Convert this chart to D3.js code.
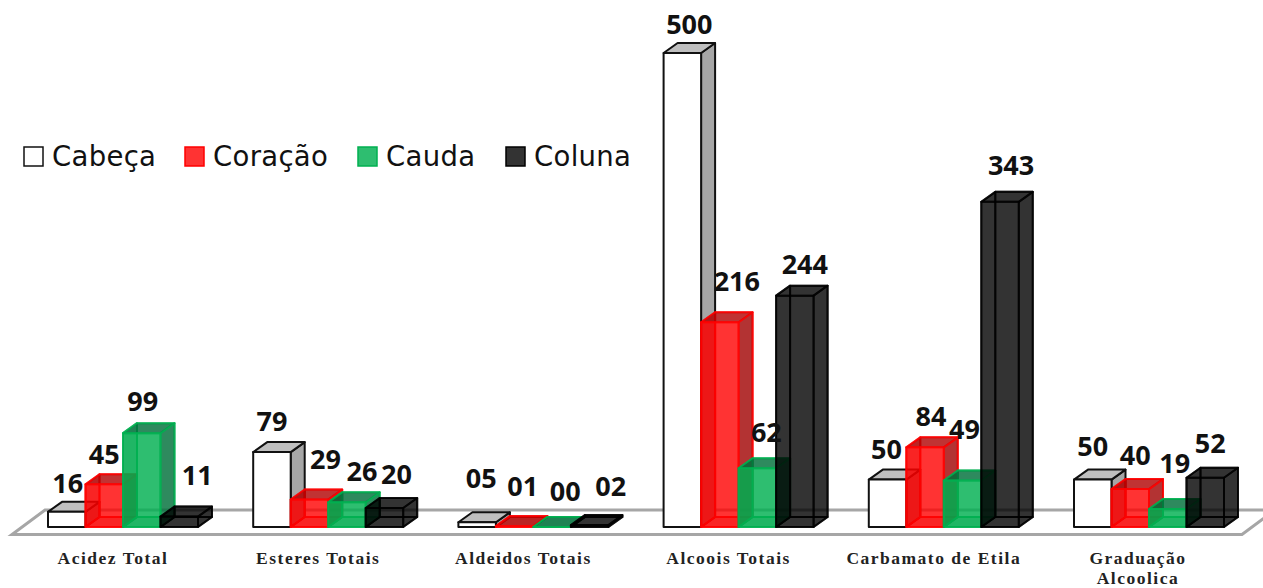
<!DOCTYPE html>
<html lang="pt">
<head>
<meta charset="utf-8">
<title>Composição das frações</title>
<script src="https://cdn.jsdelivr.net/npm/d3@7"></script>
<style>
  html, body { margin: 0; padding: 0; background: #fff; overflow: hidden; }
  svg { display: block; }
</style>
</head>
<body>
<svg id="chart" width="1263" height="588"></svg>
<script>
// Measured compounds, one row per fraction of the distillate.
const categories = ["Acidez Total", "Esteres Totais", "Aldeidos Totais", "Alcoois Totais", "Carbamato de Etila", "Graduação Alcoolica"];
const seriesNames = ["Cabeça", "Coração", "Cauda", "Coluna"];
const cabeca = [16, 79, 5, 500, 50, 50];
const coracao = [45, 29, 1, 216, 84, 40];
const cauda = [99, 26, 0, 62, 49, 19];
const coluna = [11, 20, 2, 244, 343, 52];
const printedLabels = [
  ["16", "79", "05", "500", "50", "50"],
  ["45", "29", "01", "216", "84", "40"],
  ["99", "26", "00", "62", "49", "19"],
  ["11", "20", "02", "244", "343", "52"]
];
const seriesValues = [cabeca, coracao, cauda, coluna];

// Hand-placed value labels: offset from the top centre of each bar's front face.
const labelOffsets = [
  [[1, -29], [0, -31], [4, -44], [7, -29], [-1, -30], [0, -33]],
  [[0, -30], [16, -40], [8, -40], [17, -41], [6, -31], [5, -34]],
  [[1, -32], [15, -31], [13, -36], [9, -36], [2, -51], [7, -46]],
  [[18, -41], [12, -34], [21, -39], [10, -31], [11, -37], [5, -34]]
];

// Face colours per series: front, top, side, plus how strongly inner faces tint the box.
const faceStyles = [
  { front: "#ffffff", top: "#bfbfbf", side: "#a6a6a6", edge: "#111111", opacity: 1, inner: 0 },
  { front: "#ff0000", top: "#b00000", side: "#a00000", edge: "#ff0000", opacity: 0.8, inner: 0.3 },
  { front: "#00b050", top: "#00703a", side: "#00703a", edge: "#00b050", opacity: 0.82, inner: 0.3 },
  { front: "#000000", top: "#000000", side: "#000000", edge: "#000000", opacity: 0.8, inner: 0 }
];

const baseY = 527;
const depthX = 14;
const depthY = -10;
const groupWidth = 150;

const svg = d3.select("#chart");

const x0 = d3.scaleBand()
  .domain(categories)
  .range([48, 48 + 5 * 205.2 + groupWidth])
  .paddingInner(1 - groupWidth / 205.2)
  .paddingOuter(0);

const x1 = d3.scaleBand()
  .domain(seriesNames)
  .range([0, groupWidth]);

const y = d3.scaleLinear()
  .domain([0, 500])
  .range([baseY, 53]);

// Floor of the 3D plot, clipped by the right edge of the canvas.
svg.append("path")
  .attr("d", "M12,534.5 L1242,534.5 L1275,510 L45,510 Z")
  .attr("fill", "#ffffff")
  .attr("stroke", "#a6a6a6")
  .attr("stroke-width", 3);

const poly = pts => "M" + pts.map(p => p.join(",")).join("L") + "Z";

function drawBar(layer, left, w, top, style) {
  const right = left + w;
  const dx = depthX, dy = depthY;
  const faces = [];
  if (style.opacity < 1) {
    // Translucent boxes show their rear edges and inner faces.
    faces.push({ pts: [[left + dx, top + dy], [right + dx, top + dy], [right + dx, baseY + dy], [left + dx, baseY + dy]], fill: "none", alpha: 0 });
    faces.push({ pts: [[left, top], [left + dx, top + dy], [left + dx, baseY + dy], [left, baseY]], fill: style.side, alpha: style.inner });
    faces.push({ pts: [[left, baseY], [right, baseY], [right + dx, baseY + dy], [left + dx, baseY + dy]], fill: style.side, alpha: style.inner });
  }
  faces.push({ pts: [[right, top], [right + dx, top + dy], [right + dx, baseY + dy], [right, baseY]], fill: style.side, alpha: style.opacity });
  faces.push({ pts: [[left, top], [right, top], [right + dx, top + dy], [left + dx, top + dy]], fill: style.top, alpha: style.opacity });
  faces.push({ pts: [[left, top], [right, top], [right, baseY], [left, baseY]], fill: style.front, alpha: style.opacity });

  layer.selectAll("path.face")
    .data(faces)
    .join("path")
    .attr("class", "face")
    .attr("d", d => poly(d.pts))
    .attr("fill", d => d.fill)
    .attr("fill-opacity", d => d.alpha)
    .attr("stroke", style.edge)
    .attr("stroke-opacity", style.opacity < 1 ? 0.75 : 1)
    .attr("stroke-width", 2)
    .attr("stroke-linejoin", "round");
}

// Bars are painted group by group, series left to right, so later ones overlay earlier ones.
const barRows = categories.flatMap((cat, c) =>
  seriesNames.map((name, s) => ({ cat, c, name, s, value: seriesValues[s][c] })));

svg.append("g").attr("class", "bars")
  .selectAll("g")
  .data(barRows)
  .join("g")
  .each(function (d) {
    drawBar(d3.select(this), x0(d.cat) + x1(d.name), x1.bandwidth(), y(d.value), faceStyles[d.s]);
  });

// Value labels
svg.append("g").attr("class", "values")
  .selectAll("text")
  .data(barRows)
  .join("text")
  .attr("x", d => x0(d.cat) + x1(d.name) + x1.bandwidth() / 2 + labelOffsets[d.s][d.c][0])
  .attr("y", d => y(d.value) + labelOffsets[d.s][d.c][1])
  .attr("dy", "0.36em")
  .attr("text-anchor", "middle")
  .attr("font-family", "'Open Sans', sans-serif")
  .attr("font-weight", 700)
  .attr("font-size", 27)
  .attr("fill", "#111")
  .text(d => printedLabels[d.s][d.c]);

// Category labels, the last one wrapped over two lines
const categoryLines = { "Graduação Alcoolica": ["Graduação", "Alcoolica"] };
svg.append("g").attr("class", "categories")
  .selectAll("text")
  .data(categories)
  .join("text")
  .attr("x", d => x0(d) + 65)
  .attr("y", 564)
  .attr("text-anchor", "middle")
  .attr("font-family", "'Liberation Serif', serif")
  .attr("font-weight", 700)
  .attr("font-size", 17.5)
  .attr("letter-spacing", 1.5)
  .attr("fill", "#222")
  .each(function (d) {
    const lines = categoryLines[d] || [d];
    const t = d3.select(this);
    lines.forEach((line, i) => {
      t.append("tspan")
        .attr("x", x0(d) + 65 - (lines.length > 1 ? 1 : 0))
        .attr("dy", i ? 19.5 : 0)
        .text(line);
    });
  });

// Legend
const legendX = d3.scaleOrdinal().domain(seriesNames).range([24, 185, 358, 506]);
const legend = svg.append("g").attr("class", "legend")
  .selectAll("g")
  .data(seriesNames)
  .join("g")
  .attr("transform", d => `translate(${legendX(d)},147)`);

legend.append("rect")
  .attr("width", 19)
  .attr("height", 19)
  .attr("fill", (d, i) => faceStyles[i].front)
  .attr("fill-opacity", (d, i) => faceStyles[i].opacity)
  .attr("stroke", (d, i) => faceStyles[i].edge)
  .attr("stroke-width", 1.5);

legend.append("text")
  .attr("x", 28)
  .attr("y", 19)
  .attr("font-family", "'DejaVu Sans', sans-serif")
  .attr("font-size", 27.5)
  .attr("letter-spacing", 0.3)
  .attr("fill", "#111")
  .text(d => d);
</script>
</body>
</html>
